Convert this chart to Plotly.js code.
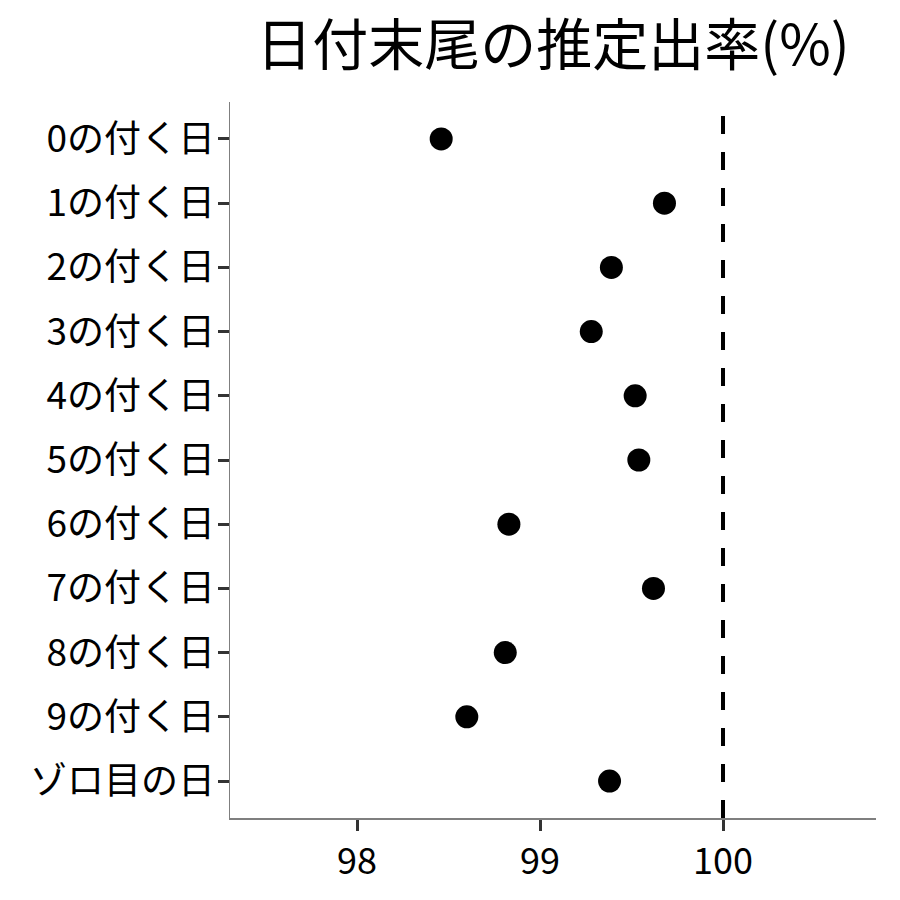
<!DOCTYPE html>
<html>
<head>
<meta charset="utf-8">
<script src="https://cdn.plot.ly/plotly-3.0.1.min.js"></script>
<style>html,body{margin:0;padding:0;background:#fff;}#chart{width:900px;height:900px;}</style>
</head>
<body>
<div id="chart"></div>
<script>
const categories = ["0の付く日","1の付く日","2の付く日","3の付く日","4の付く日","5の付く日","6の付く日","7の付く日","8の付く日","9の付く日","ゾロ目の日"];
const rates = [98.46, 99.68, 99.39, 99.28, 99.52, 99.54, 98.83, 99.62, 98.81, 98.60, 99.38];
const referenceValue = 100;
const xTicks = [98, 99, 100];
const titleText = "日付末尾の推定出率(%)";

const font = "Noto Sans CJK JP, Noto Sans, sans-serif";

const trace = {
  type: "scatter",
  mode: "markers",
  x: rates,
  y: categories,
  marker: {color: "#000000", size: 23},
  hoverinfo: "x+y",
  cliponaxis: false
};

const layout = {
  width: 900, height: 900,
  paper_bgcolor: "#ffffff",
  plot_bgcolor: "#ffffff",
  margin: {l: 230, r: 24, t: 102, b: 82, pad: 0},
  showlegend: false,
  font: {family: font, color: "#000000"},
  title: {
    text: titleText,
    font: {family: font, size: 56, color: "#000000"},
    xref: "paper", x: 0.5, xanchor: "center",
    yref: "container", y: 1 - 45/900, yanchor: "middle"
  },
  xaxis: {
    range: [97.306, 100.836],
    tickvals: xTicks,
    ticktext: xTicks.map(String),
    showgrid: false, zeroline: false,
    showline: true, linecolor: "#7f7f7f", linewidth: 1.5,
    ticks: "outside", ticklen: 11, tickwidth: 3, tickcolor: "#333333",
    tickfont: {family: font, size: 36, color: "#000000"},
    fixedrange: true
  },
  yaxis: {
    type: "category",
    categoryorder: "array",
    categoryarray: categories,
    range: [10.576, -0.576],
    showgrid: false, zeroline: false,
    showline: true, linecolor: "#7f7f7f", linewidth: 1.5,
    ticks: "outside", ticklen: 11, tickwidth: 3, tickcolor: "#333333",
    ticklabelstandoff: -5,
    tickfont: {family: font, size: 37, color: "#000000"},
    fixedrange: true
  },
  shapes: [{
    type: "line", xref: "x", yref: "paper",
    x0: referenceValue, x1: referenceValue, y0: 0, y1: 1,
    line: {color: "#000000", width: 4, dash: "18px,18px"},
    layer: "above"
  }]
};

Plotly.newPlot("chart", [trace], layout, {displayModeBar: false, staticPlot: true});
</script>
</body>
</html>
